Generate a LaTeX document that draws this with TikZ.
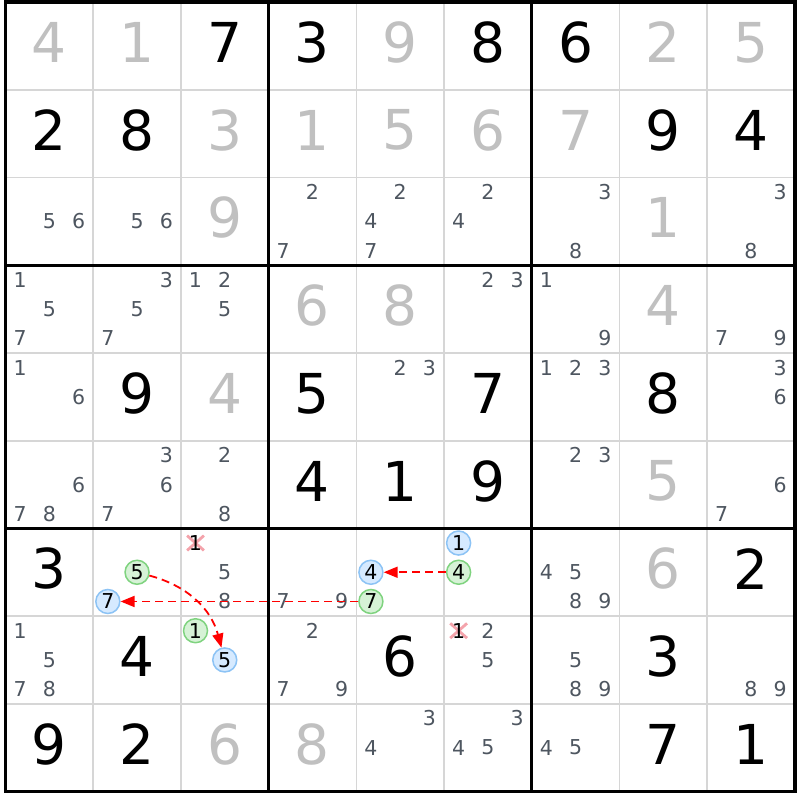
\documentclass[tikz,border=0pt]{standalone}
\usepackage{fontspec}
\setmainfont{DejaVu Sans}
\usetikzlibrary{arrows.meta,shapes.misc}
\definecolor{givengray}{HTML}{C0C0C0}
\definecolor{candgray}{HTML}{4E5660}
\definecolor{gridgray}{HTML}{D6D6D6}
\definecolor{cgreenfill}{HTML}{D6F2D6}
\definecolor{cgreenline}{HTML}{7FD37F}
\definecolor{cbluefill}{HTML}{D6EAFF}
\definecolor{cblueline}{HTML}{8CC3F5}
\definecolor{xpink}{HTML}{F4A3AB}
\definecolor{chainred}{HTML}{FF0000}
\begin{document}
\begin{tikzpicture}[x=1pt,y=-1pt,
  bigdigit/.style={inner sep=0pt, font=\fontsize{55}{55}\selectfont},
  givenstyle/.style={bigdigit, text=givengray},
  solvedstyle/.style={bigdigit, text=black},
  cand/.style={inner sep=0pt, font=\fontsize{20.5}{20.5}\selectfont, text=candgray},
  hot/.style={inner sep=0pt, font=\fontsize{20.5}{20.5}\selectfont, text=black},
  greenring/.style={hot, circle, minimum size=24pt, draw=cgreenline, fill=cgreenfill, line width=1.5pt},
  bluering/.style={hot, circle, minimum size=24pt, draw=cblueline, fill=cbluefill, line width=1.5pt},
  xmark/.style={cross out, draw=xpink, line width=2.8pt, minimum width=14pt, minimum height=12pt, inner sep=0pt},
  thinline/.style={gridgray, line width=1.6pt},
  thickline/.style={black, line width=3pt},
  chain/.style={draw=chainred, line width=1.8pt, dash pattern=on 8pt off 5pt, -{Triangle[length=14pt,width=11pt,fill=chainred]}}
]
\def\cs{87.7}
\def\ox{5.5}
\def\oy{2.2}
\useasboundingbox (0,0) rectangle (800,800);
\fill[white] (0,0) rectangle (800,800);
% thin grid lines
\foreach \i in {1,2,4,5,7,8} {
  \draw[thinline] ({\ox+\i*\cs},{\oy}) -- ({\ox+\i*\cs},{\oy+9*\cs});
  \draw[thinline] ({\ox},{\oy+\i*\cs}) -- ({\ox+9*\cs},{\oy+\i*\cs});
}
\foreach \i in {3,6} {
  \draw[thickline] ({\ox+\i*\cs},{\oy}) -- ({\ox+\i*\cs},{\oy+9*\cs});
  \draw[thickline] ({\ox},{\oy+\i*\cs}) -- ({\ox+9*\cs},{\oy+\i*\cs});
}
\draw[black, line width=3.4pt] ({\ox},{\oy}) rectangle ({\ox+9*\cs},{\oy+9*\cs});
% given digits (gray)
\foreach \r/\c/\d in {1/1/4,1/2/1,1/5/9,1/8/2,1/9/5,
  2/3/3,2/4/1,2/5/5,2/6/6,2/7/7,
  3/3/9,3/8/1, 4/4/6,4/5/8,4/8/4, 5/3/4, 6/8/5, 7/8/6, 9/3/6,9/4/8} {
  \node[givenstyle] (v\r\c) at ({\ox+(\c-0.5)*\cs},{\oy+(\r-0.5)*\cs-3.5}) {\d};
}
% solved digits (black)
\foreach \r/\c/\d in {1/3/7,1/4/3,1/6/8,1/7/6,
  2/1/2,2/2/8,2/8/9,2/9/4,
  5/2/9,5/4/5,5/6/7,5/8/8, 6/4/4,6/5/1,6/6/9,
  7/1/3,7/9/2, 8/2/4,8/5/6,8/8/3, 9/1/9,9/2/2,9/8/7,9/9/1} {
  \node[solvedstyle] (v\r\c) at ({\ox+(\c-0.5)*\cs},{\oy+(\r-0.5)*\cs-3.5}) {\d};
}
% candidates
\foreach \r/\c/\d in {3/1/5,3/1/6,3/2/5,3/2/6,3/4/2,3/4/7,3/5/2,3/5/4,3/5/7,3/6/2,3/6/4,3/7/3,3/7/8,3/9/3,3/9/8,
  4/1/1,4/1/5,4/1/7,4/2/3,4/2/5,4/2/7,4/3/1,4/3/2,4/3/5,4/6/2,4/6/3,4/7/1,4/7/9,4/9/7,4/9/9,
  5/1/1,5/1/6,5/5/2,5/5/3,5/7/1,5/7/2,5/7/3,5/9/3,5/9/6,
  6/1/6,6/1/7,6/1/8,6/2/3,6/2/6,6/2/7,6/3/2,6/3/8,6/7/2,6/7/3,6/9/6,6/9/7,
  7/3/5,7/3/8,7/4/7,7/4/9,7/7/4,7/7/5,7/7/8,7/7/9,
  8/1/1,8/1/5,8/1/7,8/1/8,8/4/2,8/4/7,8/4/9,8/6/2,8/6/5,8/7/5,8/7/8,8/7/9,8/9/8,8/9/9,
  9/5/3,9/5/4,9/6/3,9/6/4,9/6/5,9/7/4,9/7/5} {
  \pgfmathtruncatemacro\ci{mod(\d-1,3)}
  \pgfmathtruncatemacro\ri{int((\d-1)/3)}
  \node[cand] (k\r\c\d) at ({\ox+(\c-1)*\cs+(\ci+0.5)*\cs/3},{\oy+(\r-1)*\cs+(\ri+0.5)*\cs/3}) {\d};
}
% eliminated candidates
\foreach \r/\c in {7/3,8/6} {
  \node[xmark] (x\r\c) at ({\ox+(\c-1)*\cs+0.5*\cs/3},{\oy+(\r-1)*\cs+0.5*\cs/3}) {};
  \node[hot] (k\r\c1) at ({\ox+(\c-1)*\cs+0.5*\cs/3},{\oy+(\r-1)*\cs+0.5*\cs/3}) {1};
}
% chain candidates
\foreach \r/\c/\d/\s in {7/2/5/greenring,7/2/7/bluering,7/5/4/bluering,7/5/7/greenring,
  7/6/1/bluering,7/6/4/greenring,8/3/1/greenring,8/3/5/bluering} {
  \pgfmathtruncatemacro\ci{mod(\d-1,3)}
  \pgfmathtruncatemacro\ri{int((\d-1)/3)}
  \node[\s] (k\r\c\d) at ({\ox+(\c-1)*\cs+(\ci+0.5)*\cs/3},{\oy+(\r-1)*\cs+(\ri+0.5)*\cs/3}) {\d};
}
% chain links
\draw[chain] (k764) -- (k754);
\draw[chain] (k757) -- (k727);
\draw[chain] (k725) to[out=-15, in=105] (k835);
\end{tikzpicture}
\end{document}
